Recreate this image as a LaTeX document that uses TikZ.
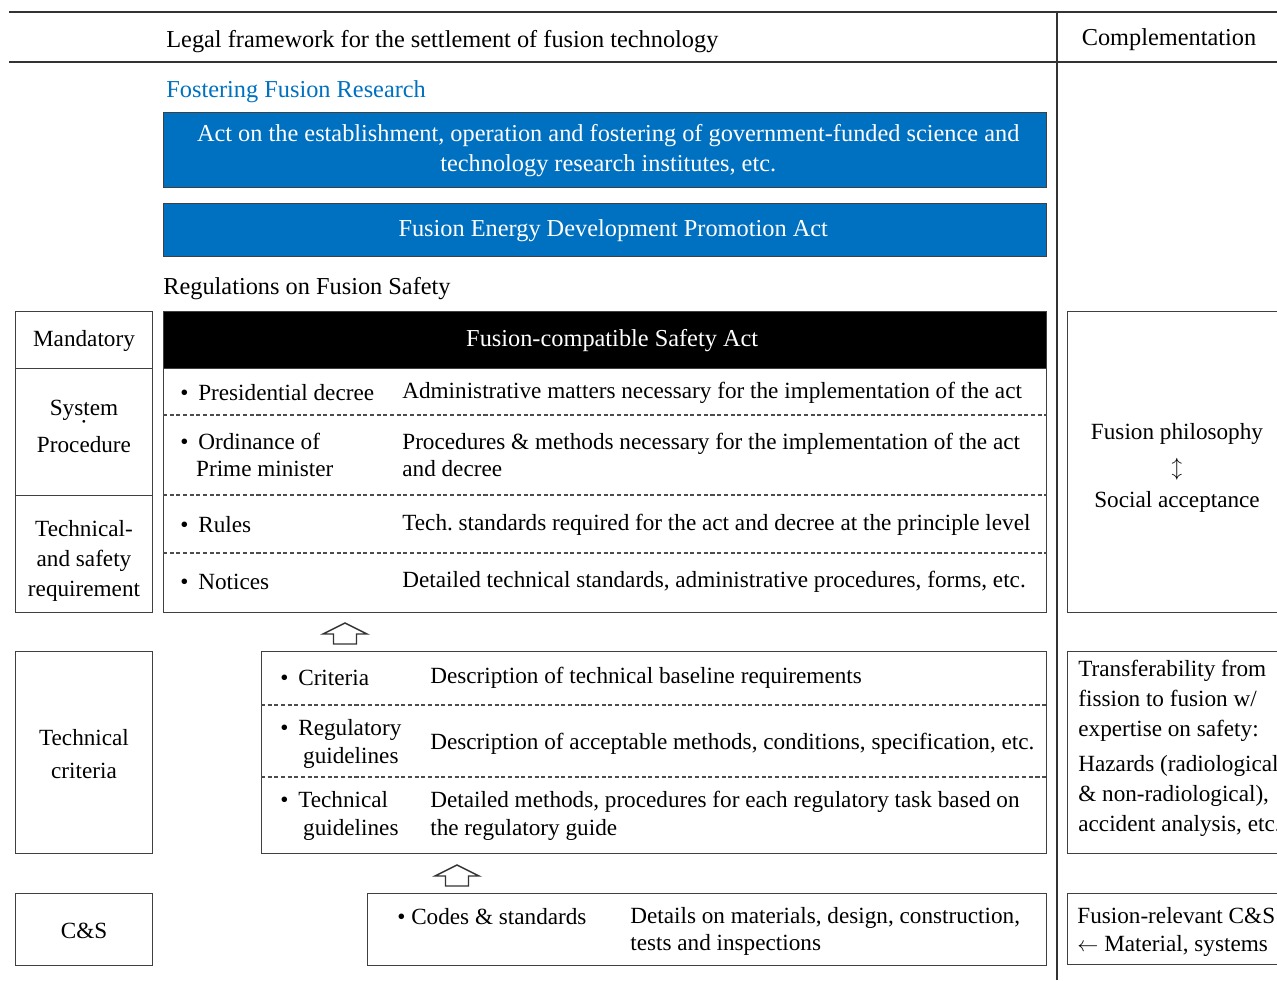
\documentclass[tikz,border=0pt]{standalone}
\usepackage{fontspec}
\setmainfont{Liberation Serif}
\usetikzlibrary{positioning}
\definecolor{FusionBlue}{RGB}{0,112,192}
\newlength\px
\setlength\px{0.02cm}
\newcommand\bul{•\hspace{5.6pt}}
\frenchspacing

\begin{document}
\begin{tikzpicture}[x=\px, y=-\px,
		every node/.style={font=\fontsize{13.2}{17}\selectfont, inner sep=0pt},
		head/.style={font=\fontsize{13.85}{17}\selectfont},
		frame/.style={draw=black!75, line width=0.8pt},
		box/.style={frame, anchor=north west, align=center},
		bluebox/.style={box, head, fill=FusionBlue, text=white},
		item/.style={anchor=west, align=left, font=\fontsize{13.2}{15.7}\selectfont},
		sep/.style={draw=black!70, line width=0.7pt, dash pattern=on 2.3pt off 1.5pt},
		rule/.style={draw=black!80, line width=1pt},
		uparrow/.style={draw=black!80, line width=0.8pt, fill=white}
		]
		\useasboundingbox (0,0) rectangle (1277,980);
		
		% ===== header rules =====
		\draw[rule] (9,12) -- (1277,12);
		\draw[rule] (9,62) -- (1277,62);
		\draw[rule] (1057,12) -- (1057,980);
		\node[head, anchor=west] (title) at (166,42) {Legal framework for the settlement of fusion technology};
		\node[head] (compl) at (1169,40) {Complementation};
		
		% ===== fostering fusion research =====
		\node[head, anchor=west, text=FusionBlue] (foster) at (166,92) {Fostering Fusion Research};
		\node[bluebox, minimum width=883\px, minimum height=75\px] (actgov) at (163,112)
		{\raisebox{-2.5pt}{\parbox{870\px}{\centering\hspace*{6\px}Act on the establishment, operation and fostering of government-funded science and\\\hspace*{6\px}technology research institutes, etc.}}};
		\node[bluebox, minimum width=883\px, minimum height=53\px] (promo) at (163,203)
		{\raisebox{-1.5pt}{\hspace*{16\px}Fusion Energy Development Promotion Act}};
		\node[head, anchor=west] (regs) at (163,289) {Regulations on Fusion Safety};
		
		% ===== left column =====
		\foreach \nm/\top/\h in {mand/311/57, sys/368/127, tsr/495/117, tcrit/651/202, cs/893/72}{
			\node[box, minimum width=137\px, minimum height=\h\px] (\nm) at (15,\top) {};
		}
		\foreach \nm/\y/\txt in {mand/341/Mandatory,
			sys/426/{System\\[-9pt]·\\[-4pt]Procedure},
			tsr/561/{Technical-\\and safety\\requirement},
			tcrit/754/{Technical\\[2pt]criteria},
			cs/931/C\&S}{
			\node[align=center] (\nm t) at (84,\y) {\txt};
		}
		
		% ===== safety act block =====
		\node[box, minimum width=883\px, minimum height=301\px] (safety) at (163,311) {};
		\node[box, head, fill=black, text=white, minimum width=883\px, minimum height=57\px] (act) at (163,311)
		{\raisebox{-1.5pt}{\hspace*{14\px}Fusion-compatible Safety Act}};
		\foreach \y in {415,495,553}{
			\draw[sep] (safety.west |- 0,\y) -- (safety.east |- 0,\y);
		}
		\node[item] (pres) at (180,393) {\bul Presidential decree};
		\node[item] (ordi) at (180,455) {\bul Ordinance of\\\hspace{9pt}Prime minister};
		\node[item] (rules) at (180,525) {\bul Rules};
		\node[item] (notic) at (180,582) {\bul Notices};
		\node[item] (presd) at (402,393) {Administrative matters necessary for the implementation of the act};
		\node[item] (ordid) at (402,455) {Procedures \& methods necessary for the implementation of the act\\and decree};
		\node[item] (rulesd) at (402,525) {Tech. standards required for the act and decree at the principle level};
		\node[item] (noticd) at (402,582) {Detailed technical standards, administrative procedures, forms, etc.};
		
		% ===== technical criteria block =====
		\node[box, minimum width=785\px, minimum height=202\px] (crit) at (261,651) {};
		\foreach \y in {705,777}{
			\draw[sep] (crit.west |- 0,\y) -- (crit.east |- 0,\y);
		}
		\node[item] (crt) at (280,678) {\bul Criteria};
		\node[item] (rgg) at (280,744) {\bul Regulatory\\\hspace{13pt}guidelines};
		\node[item] (tcg) at (280,816) {\bul Technical\\\hspace{13pt}guidelines};
		\node[item] (crtd) at (430,678) {Description of technical baseline requirements};
		\node[item] (rggd) at (430,744) {Description of acceptable methods, conditions, specification, etc.};
		\node[item] (tcgd) at (430,816) {Detailed methods, procedures for each regulatory task based on\\the regulatory guide};
		
		% ===== codes & standards block =====
		\node[box, minimum width=679\px, minimum height=72\px] (codes) at (367,893) {};
		\node[item] (cds) at (397,917) {• Codes \& standards};
		\node[item] (cdsd) at (630,931.5) {Details on materials, design, construction,\\tests and inspections};
		
		% ===== block arrows =====
		\foreach \ax/\ay in {345/623, 457/865}{
			\draw[uparrow] (\ax,\ay) -- ++(22,11) -- ++(-10.5,0) -- ++(0,10) -- ++(-23,0)
			-- ++(0,-10) -- ++(-10.5,0) -- cycle;
		}
		
		% ===== complementation column =====
		\node[box, minimum width=220\px, minimum height=301\px] (phil) at (1067,311) {};
		\node[align=center] (philt) at (1177,468) {Fusion philosophy\\[2.5pt]$\updownarrow$\\[2pt]Social acceptance};
		\node[box, minimum width=220\px, minimum height=202\px] (trans) at (1067,651) {};
		\node[align=left, anchor=west] (transt) at (1078,748.5)
		{Transferability from\\fission to fusion w/\\expertise on safety:\\[3pt]Hazards (radiological\\\& non-radiological),\\accident analysis, etc.};
		\node[box, minimum width=220\px, minimum height=71\px] (rel) at (1067,893) {};
		\node[item] (relt) at (1077,932) {Fusion-relevant C\&S\\$\leftarrow$ Material, systems};
		
\end{tikzpicture}
\end{document}
